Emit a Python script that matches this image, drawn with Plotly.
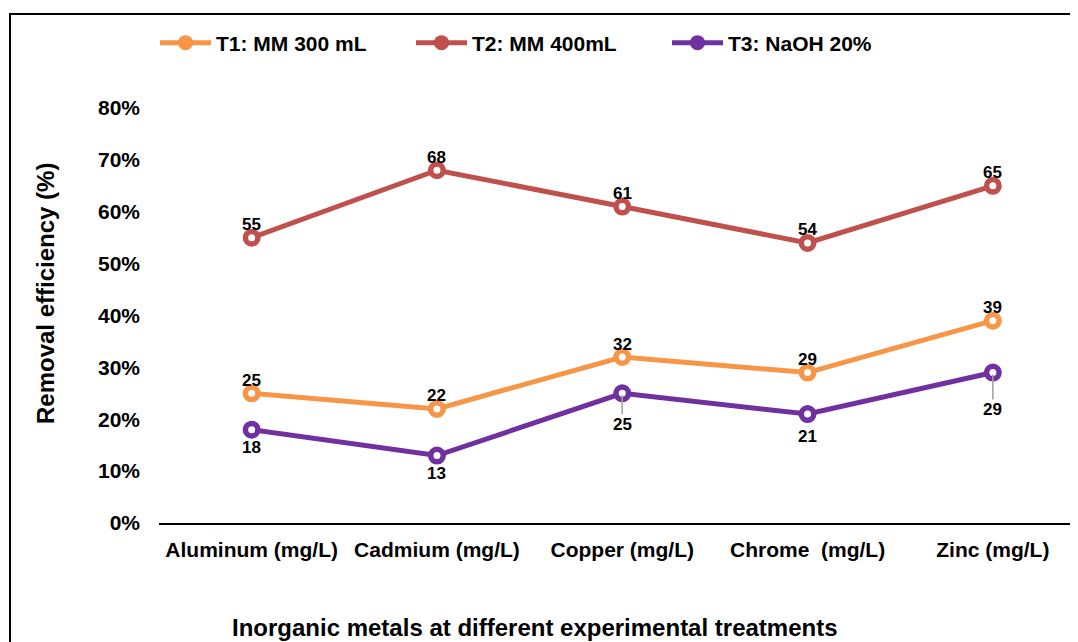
import plotly.graph_objects as go

categories = ["Aluminum (mg/L)", "Cadmium (mg/L)", "Copper (mg/L)", "Chrome  (mg/L)", "Zinc (mg/L)"]
t1_name = "T1: MM 300 mL"
t2_name = "T2: MM 400mL"
t3_name = "T3: NaOH 20%"
t1_values = [25, 22, 32, 29, 39]
t2_values = [55, 68, 61, 54, 65]
t3_values = [18, 13, 25, 21, 29]
y_ticks = [0, 10, 20, 30, 40, 50, 60, 70, 80]
y_tick_labels = ["0%", "10%", "20%", "30%", "40%", "50%", "60%", "70%", "80%"]
y_title = "Removal efficiency (%)"
x_title = "Inorganic metals at different experimental treatments"

# ---- style / layout (page body has an 8px margin) ----
c1, c2, c3 = "#F79646", "#C0504D", "#7030A0"
FONT = "Arial, Liberation Sans, sans-serif"
OFF = 8
W, H = 1078 - OFF, 642 - OFF
PL, PT, PB = 159 - OFF, 108 - OFF, 523 - OFF  # plot left/top/bottom in figure px
ML, MT, MR = PL, PT, 0
MB = H - PB
pw = W - ML - MR
ph = PB - PT


def px(xv):  # view x pixel -> paper
    return (xv - OFF - PL) / pw


def py(yv):  # view y pixel -> paper
    return (PB - (yv - OFF)) / ph


xi = list(range(len(categories)))

fig = go.Figure()
series = [(t1_name, t1_values, c1), (t2_name, t2_values, c2), (t3_name, t3_values, c3)]
for name, vals, col in series:
    fig.add_trace(go.Scatter(
        x=xi, y=vals, mode="lines+markers", name=name, showlegend=False,
        line=dict(color=col, width=5),
        marker=dict(symbol="circle", size=12.5, color="white", line=dict(color=col, width=5.5)),
        hoverinfo="skip"))
# legend entries (filled markers as in the reference)
for name, vals, col in series:
    fig.add_trace(go.Scatter(
        x=[None], y=[None], mode="lines+markers", name=name,
        line=dict(color=col, width=5),
        marker=dict(symbol="circle", size=15, color=col)))

lab_font = dict(family=FONT, size=17, color="black")
ann = []
for vals in (t1_values, t2_values):
    for i, v in enumerate(vals):
        ann.append(dict(x=i, y=v, xref="x", yref="y", text=str(v), showarrow=False,
                        yshift=13, font=lab_font))
t3_offsets = [18, 18, 31, 22, 37]
t3_leader = [False, False, True, False, True]
for i, v in enumerate(t3_values):
    if t3_leader[i]:
        ann.append(dict(x=i, y=v, xref="x", yref="y", text=str(v), showarrow=True,
                        ax=0, ay=t3_offsets[i], arrowhead=0, arrowwidth=1.5,
                        arrowcolor="#A0A0A0", standoff=2, borderpad=0, font=lab_font))
    else:
        ann.append(dict(x=i, y=v, xref="x", yref="y", text=str(v), showarrow=False,
                        yshift=-t3_offsets[i], font=lab_font))

ann.append(dict(x=px(535), y=py(627), xref="paper", yref="paper",
                text=x_title, showarrow=False, yanchor="middle", xanchor="center",
                font=dict(family=FONT, size=24, color="black")))
ann.append(dict(x=px(45), y=py(294), xref="paper", yref="paper",
                text=y_title, showarrow=False, textangle=-90, xanchor="center", yanchor="middle",
                font=dict(family=FONT, size=24, color="black")))

step = 185.3  # px between categories
tick_font = dict(family=FONT, size=21, color="black", weight="bold")
fig.update_layout(
    width=W, height=H,
    margin=dict(l=ML, r=MR, t=MT, b=MB, pad=0),
    paper_bgcolor="white", plot_bgcolor="white",
    font=dict(family=FONT, size=20, color="black", weight="bold"),
    annotations=ann,
    legend=dict(orientation="h", x=px(155), y=py(43), xanchor="left", yanchor="middle",
                font=dict(family=FONT, size=21, color="black", weight="bold"),
                itemwidth=51, entrywidth=190, bgcolor="rgba(0,0,0,0)"),
    shapes=[dict(type="rect", xref="paper", yref="paper",
                 x0=px(10), x1=1.2, y0=-1.0, y1=py(14),
                 line=dict(color="black", width=2), fillcolor="rgba(0,0,0,0)", layer="below")],
    xaxis=dict(range=[-0.5, -0.5 + pw / step], tickvals=xi, ticktext=categories,
               showgrid=False, zeroline=False, showline=True, linecolor="black", linewidth=2,
               ticks="", ticklabelstandoff=7, tickfont=tick_font),
    yaxis=dict(range=[0, 80], tickvals=y_ticks, ticktext=y_tick_labels, showgrid=False,
               zeroline=False, showline=False, ticks="", ticklabelstandoff=18,
               tickfont=tick_font),
)

fig.write_html("out.html")
